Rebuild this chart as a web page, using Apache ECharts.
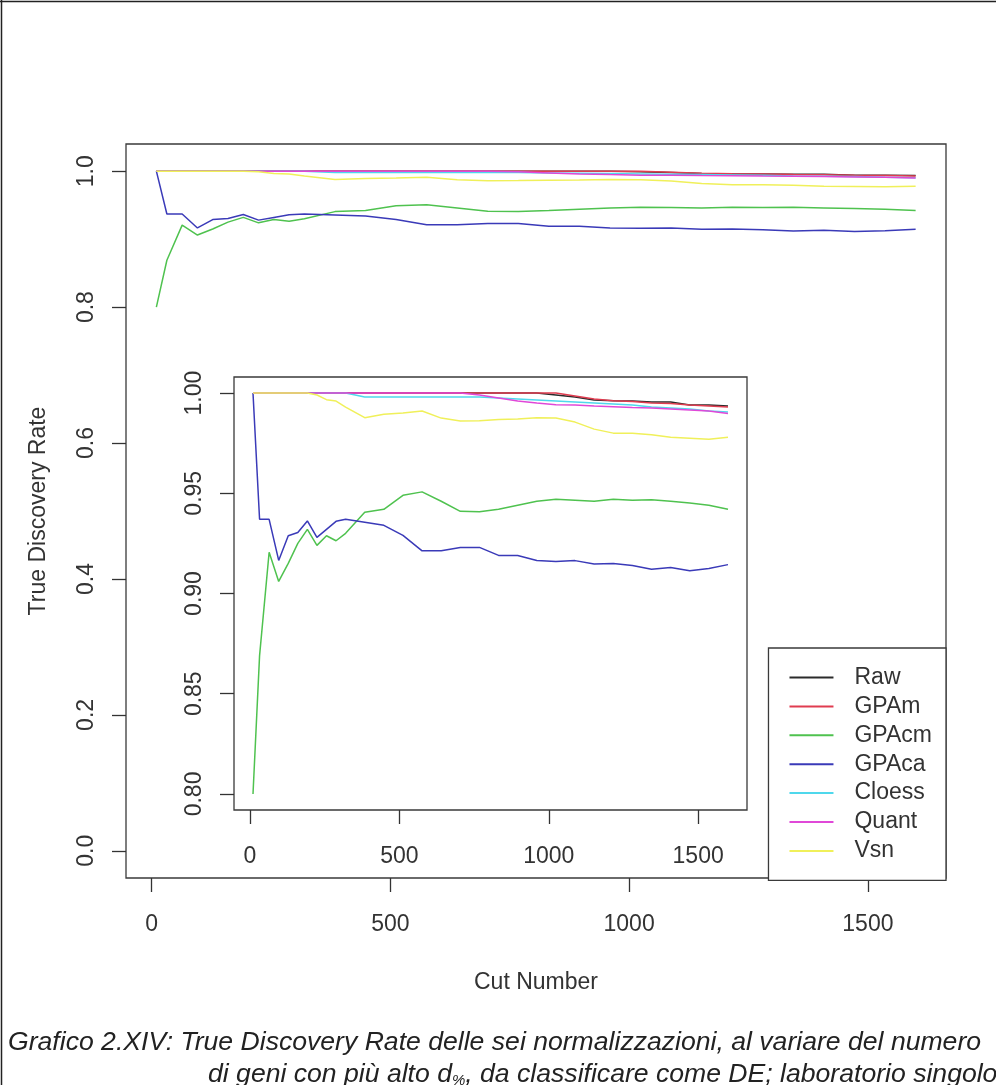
<!DOCTYPE html>
<html><head><meta charset="utf-8">
<script src="https://cdn.jsdelivr.net/npm/echarts@6/dist/echarts.min.js"></script>
<style>html,body{margin:0;padding:0;background:#fff}#c{width:996px;height:1085px}</style>
</head><body><div id="c"></div>
<script>
const cutNumbers = [10, 32, 64, 96, 128, 160, 192, 224, 256, 288, 320, 384, 448, 512, 576, 640, 704, 768, 832, 896, 960, 1024, 1088, 1152, 1216, 1280, 1344, 1408, 1472, 1536, 1600];
const raw    = [1,1,1,1,1,1,1,1,1,1,1, 1,1,1,1,1,1,1,1,1,1, 0.999,0.998,0.9965,0.9962,0.996,0.9955,0.9955,0.994,0.994,0.9935];
const gpam   = [1,1,1,1,1,1,1,1,1,1,1, 1,1,1,1,1,1,1,1,1,1, 1,0.9985,0.997,0.9962,0.9958,0.995,0.9948,0.994,0.9935,0.993];
const gpacm  = [0.800,0.869,0.9206,0.906,0.915,0.925,0.932,0.924,0.9288,0.9263,0.930,0.9405,0.942,0.949,0.9507,0.946,0.941,0.9408,0.942,0.944,0.946,0.947,0.9465,0.946,0.947,0.9465,0.9468,0.946,0.9452,0.944,0.942];
const gpaca  = [1.000,0.937,0.937,0.9165,0.9288,0.9304,0.9362,0.928,0.932,0.936,0.937,0.9355,0.934,0.929,0.9213,0.9213,0.923,0.923,0.919,0.919,0.9165,0.916,0.9164,0.9147,0.915,0.914,0.9121,0.913,0.9114,0.9125,0.9144];
const cloess = [1,1,1,1,1,1,1,1,1,1,1, 0.998,0.998,0.998,0.998,0.998,0.998,0.998,0.9975,0.997,0.9965,0.996,0.9955,0.995,0.9945,0.994,0.993,0.9925,0.992,0.991,0.9905];
const quant  = [1,1,1,1,1,1,1,1,1,1,1,1,1,1,1,1,1, 0.999,0.9975,0.996,0.995,0.9942,0.994,0.9935,0.9932,0.9928,0.9925,0.992,0.9915,0.991,0.9898];
const vsn    = [1,1,1,1,1,1,1, 0.999,0.9967,0.996,0.993,0.9877,0.9894,0.990,0.991,0.9875,0.986,0.9862,0.9868,0.987,0.9877,0.9875,0.9855,0.982,0.980,0.980,0.9792,0.978,0.9775,0.977,0.978];

const seriesNames  = ['Raw','GPAm','GPAcm','GPAca','Cloess','Quant','Vsn'];
const seriesColors = ['#2b2b2b','#e03c50','#4fc24f','#3a3ab8','#4fd8ec','#e048d8','#f0f05a'];
const seriesValues = [raw, gpam, gpacm, gpaca, cloess, quant, vsn];

const xTicks = [0, 500, 1000, 1500];
const mainYTicks = [0, 0.2, 0.4, 0.6, 0.8, 1.0];
const insetYTicks = [0.80, 0.85, 0.90, 0.95, 1.00];
const xTitle = 'Cut Number';
const yTitle = 'True Discovery Rate';
const captionLine1 = 'Grafico 2.XIV: True Discovery Rate delle sei normalizzazioni, al variare del numero';
const captionLine2 = 'di geni con più alto d{sub|%}, da classificare come DE; laboratorio singolo';

const FONT = 'Liberation Sans, Arial, sans-serif';
const TXT = '#333';
const FS = 23;

function pairs(ys){ return cutNumbers.map((x,i)=>[x, ys[i]]); }

function xAxisCfg(gi){
  return {
    type:'value', gridIndex:gi, min:-53.6, max:1663.6,
    splitLine:{show:false}, axisLine:{show:false, onZero:false},
    axisTick:{show:true, customValues:xTicks, length:14, lineStyle:{color:TXT, width:1.3}},
    axisLabel:{show:true, customValues:xTicks, margin:35, fontSize:FS, fontFamily:FONT, color:TXT,
      formatter:v=>String(Math.round(v))},
    ...(gi===0 ? {name:xTitle, nameLocation:'middle', nameGap:93, nameTextStyle:{fontSize:FS, fontFamily:FONT, color:TXT}} : {})
  };
}
function yAxisCfg(gi, mn, mx, ticks, dec){
  return {
    type:'value', gridIndex:gi, min:mn, max:mx,
    splitLine:{show:false}, axisLine:{show:false, onZero:false},
    axisTick:{show:true, customValues:ticks, length:14, lineStyle:{color:TXT, width:1.3}},
    axisLabel:{show:true, customValues:ticks, rotate:90, margin:28, fontSize:FS, fontFamily:FONT, color:TXT,
      formatter:v=>Number(v).toFixed(dec)},
    ...(gi===0 ? {name:yTitle, nameLocation:'middle', nameGap:76, nameTextStyle:{fontSize:FS, fontFamily:FONT, color:TXT}} : {})
  };
}

const series = [];
[0,1].forEach(g=>{
  seriesNames.forEach((n,i)=>{
    series.push({
      type:'line', name:n, xAxisIndex:g, yAxisIndex:g, data:pairs(seriesValues[i]),
      symbol:'none', showSymbol:false, silent:true, animation:false,
      lineStyle:{width:1.5, color:seriesColors[i]}, itemStyle:{color:seriesColors[i]}
    });
  });
});

const chart = echarts.init(document.getElementById('c'), null, {renderer:'canvas'});
chart.setOption({
  backgroundColor:'#fff',
  animation:false,
  grid:[
    {left:126, top:144, width:820, height:734, show:true, borderColor:'#3a3a3a', borderWidth:1.3, backgroundColor:'transparent'},
    {left:234, top:377, width:513, height:433, show:true, borderColor:'#3a3a3a', borderWidth:1.3, backgroundColor:'transparent'}
  ],
  xAxis:[xAxisCfg(0), xAxisCfg(1)],
  yAxis:[yAxisCfg(0,-0.04,1.04,mainYTicks,1), yAxisCfg(1,0.792,1.008,insetYTicks,2)],
  legend:{
    data:seriesNames, orient:'vertical', right:50, top:648,
    padding:[18,14,18,21], itemGap:5.9, itemWidth:44, itemHeight:2, icon:'rect',
    backgroundColor:'#fff', borderColor:'#3a3a3a', borderWidth:1.3, borderRadius:0,
    selectedMode:false,
    textStyle:{fontSize:FS, fontFamily:FONT, color:TXT, padding:[0,0,0,16]}
  },
  graphic:[
    {type:'line', shape:{x1:0,y1:1.5,x2:996,y2:1.5}, style:{stroke:'#222', lineWidth:1.5}},
    {type:'line', shape:{x1:1.5,y1:0,x2:1.5,y2:1085}, style:{stroke:'#222', lineWidth:1.5}},
    {type:'text', left:8, top:1029, style:{text:captionLine1, font:'italic 26.6px Liberation Sans, Arial, sans-serif', fill:'#222'}},
    {type:'text', left:208, top:1061, style:{
      text:captionLine2,
      font:'italic 26.6px Liberation Sans, Arial, sans-serif', fill:'#222',
      rich:{sub:{fontSize:15, fontStyle:'italic', fontFamily:FONT, verticalAlign:'bottom', padding:[12,0,0,0], fill:'#222'}}
    }}
  ],
  series:series
});
</script></body></html>
